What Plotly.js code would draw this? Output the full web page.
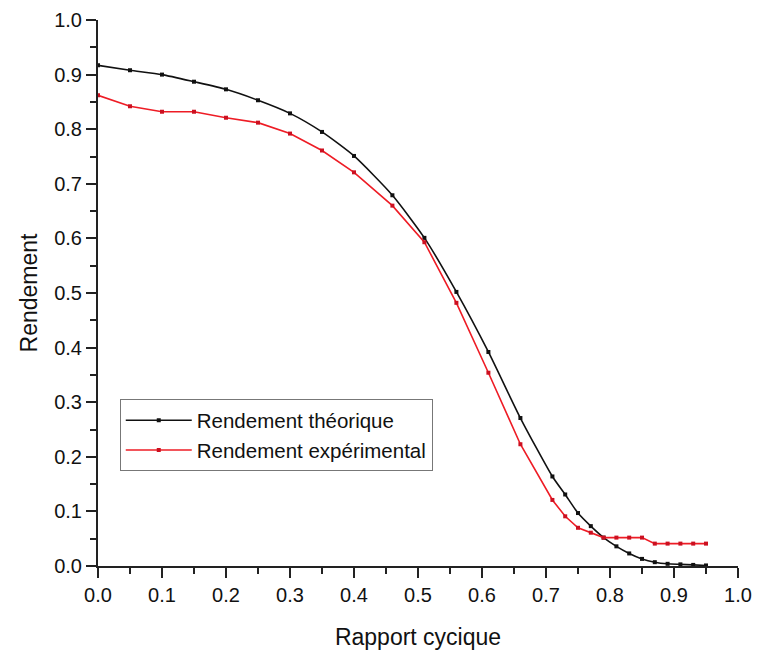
<!DOCTYPE html>
<html>
<head>
<meta charset="utf-8">
<script src="https://cdn.plot.ly/plotly-3.0.1.min.js"></script>
<style>html,body{margin:0;padding:0;background:#fff;}#chart{width:762px;height:659px;}</style>
</head>
<body>
<div id="chart"></div>
<script>
// Rapport cyclique (x) values
const xTheo = [0, 0.05, 0.10, 0.15, 0.20, 0.25, 0.30, 0.35, 0.40, 0.46, 0.51, 0.56, 0.61, 0.66, 0.71, 0.73, 0.75, 0.77, 0.79, 0.81, 0.83, 0.85, 0.87, 0.89, 0.91, 0.93, 0.95];
const yTheo = [0.917, 0.908, 0.900, 0.887, 0.873, 0.853, 0.829, 0.795, 0.751, 0.679, 0.601, 0.502, 0.392, 0.271, 0.164, 0.131, 0.097, 0.073, 0.052, 0.036, 0.023, 0.013, 0.007, 0.004, 0.003, 0.002, 0.001];
const xExp = [0, 0.05, 0.10, 0.15, 0.20, 0.25, 0.30, 0.35, 0.40, 0.46, 0.51, 0.56, 0.61, 0.66, 0.71, 0.73, 0.75, 0.77, 0.79, 0.81, 0.83, 0.85, 0.87, 0.89, 0.91, 0.93, 0.95];
const yExp = [0.862, 0.842, 0.832, 0.832, 0.821, 0.812, 0.792, 0.761, 0.721, 0.660, 0.593, 0.482, 0.354, 0.223, 0.121, 0.091, 0.070, 0.061, 0.052, 0.052, 0.052, 0.052, 0.041, 0.041, 0.041, 0.041, 0.041];
const nameTheo = 'Rendement théorique';
const nameExp = 'Rendement expérimental';
const xTickVals = [0, 0.1, 0.2, 0.3, 0.4, 0.5, 0.6, 0.7, 0.8, 0.9, 1.0];
const yTickVals = [0, 0.1, 0.2, 0.3, 0.4, 0.5, 0.6, 0.7, 0.8, 0.9, 1.0];

const font = 'Liberation Sans, Arial, sans-serif';
const traces = [
  {x: xTheo, y: yTheo, name: nameTheo, mode: 'lines+markers', type: 'scatter',
   line: {color: '#111111', width: 1.6, shape: 'spline', smoothing: 0.6},
   marker: {color: '#111111', size: 4, symbol: 'square'}},
  {x: xExp, y: yExp, name: nameExp, mode: 'lines+markers', type: 'scatter',
   line: {color: '#ee1c25', width: 1.6},
   marker: {color: '#cc1020', size: 4, symbol: 'square'}}
];
const layout = {
  width: 762, height: 659,
  margin: {l: 98, r: 24, t: 20, b: 92.5},
  paper_bgcolor: '#ffffff', plot_bgcolor: '#ffffff',
  font: {family: font, size: 20, color: '#111'},
  showlegend: true,
  legend: {x: 0.034, y: 0.305, xanchor: 'left', yanchor: 'top',
    bordercolor: '#777', borderwidth: 1, bgcolor: '#fff',
    font: {family: font, size: 20.5, color: '#111'}, itemwidth: 66, tracegroupgap: 0},
  xaxis: {range: [0, 1.0], tickvals: xTickVals, ticktext: xTickVals.map(v => v.toFixed(1)),
    showgrid: false, zeroline: false, showline: true, linecolor: '#222', linewidth: 2,
    ticks: 'outside', ticklen: 10, tickwidth: 2, tickcolor: '#222',
    minor: {dtick: 0.05, ticks: 'outside', ticklen: 6, tickwidth: 2, tickcolor: '#222', showgrid: false},
    tickfont: {family: font, size: 20},
    title: {text: 'Rapport cycique', font: {family: font, size: 23}, standoff: 24}},
  yaxis: {range: [0, 1.0], tickvals: yTickVals, ticktext: yTickVals.map(v => v.toFixed(1)),
    showgrid: false, zeroline: false, showline: true, linecolor: '#222', linewidth: 2,
    ticks: 'outside', ticklen: 10, tickwidth: 2, tickcolor: '#222',
    minor: {dtick: 0.05, ticks: 'outside', ticklen: 6, tickwidth: 2, tickcolor: '#222', showgrid: false},
    tickfont: {family: font, size: 20},
    title: {text: 'Rendement', font: {family: font, size: 23}, standoff: 10}}
};
Plotly.newPlot('chart', traces, layout, {displayModeBar: false, staticPlot: true});
</script>
</body>
</html>
